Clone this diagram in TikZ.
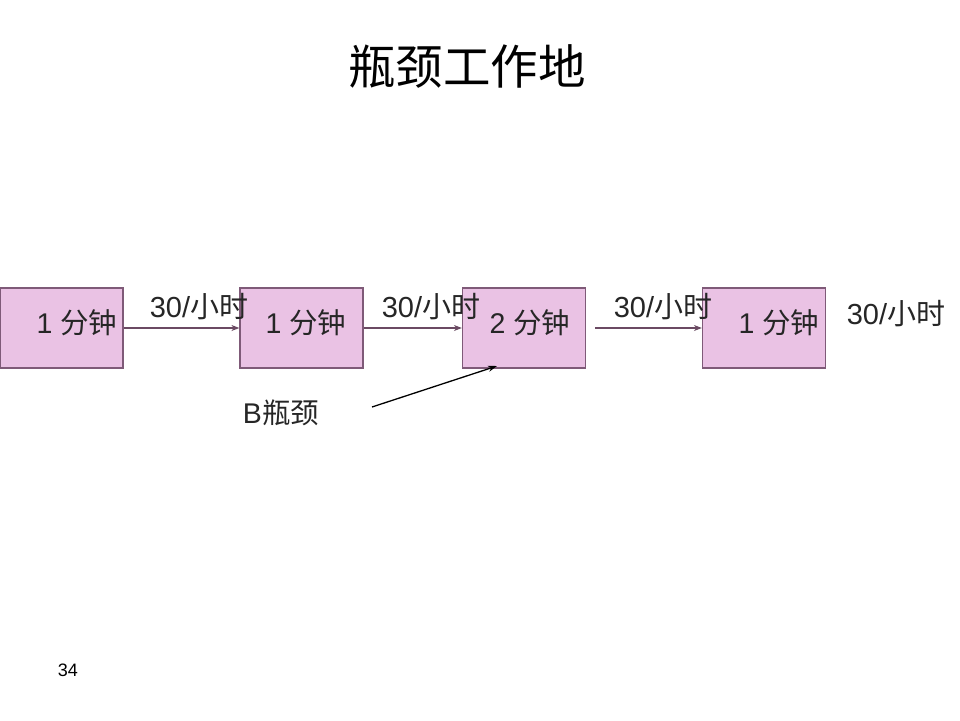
\documentclass[tikz,border=0pt]{standalone}
\usepackage{fontspec}
\setmainfont{Liberation Sans}
\newfontfamily\cjk{Noto Sans CJK SC}
\usetikzlibrary{arrows.meta}
\definecolor{boxfill}{HTML}{EAC2E4}
\definecolor{boxline}{HTML}{7F5A78}
\definecolor{flowline}{HTML}{6B4A63}
\tikzset{
  box/.style={draw=boxline, line width=1.2pt, fill=boxfill, minimum width=123pt, minimum height=80pt, inner sep=0pt},
  boxtext/.style={font=\fontsize{28.5pt}{31pt}\selectfont, inner sep=0pt, text=black!85},
  ratetext/.style={font=\fontsize{29pt}{32pt}\selectfont, inner sep=0pt, text=black!85},
  flow/.style={draw=flowline, line width=1.3pt, -{Stealth[length=8pt,width=6pt]}},
  pointer/.style={draw=black, line width=1.3pt, -{Stealth[length=9pt,width=6pt]}}
}
\begin{document}
\begin{tikzpicture}[x=1pt,y=-1pt]
\useasboundingbox (0,0) rectangle (960,720);
\fill[white] (0,0) rectangle (960,720);
\node[inner sep=0pt, font=\cjk\fontsize{47.5pt}{50pt}\selectfont] (title) at (467,66) {瓶颈工作地};
\node[box] (b1) at (61.5,328) {};
\node[box] (b2) at (301.5,328) {};
\node[box] (b3) at (524,328) {};
\node[box] (b4) at (764,328) {};
\node[boxtext] (t1) at (77,323) {1 {\cjk 分钟}};
\node[boxtext] (t2) at (306,323) {1 {\cjk 分钟}};
\node[boxtext] (t3) at (530,323) {2 {\cjk 分钟}};
\node[boxtext] (t4) at (779,323) {1 {\cjk 分钟}};
\draw[flow] (b1.east) -- (b2.west);
\draw[flow] (b2.east) -- (b3.west);
\draw[flow] ([xshift=9pt]b3.east) -- (b4.west);
\node[ratetext] (r1) at (199,307) {30/{\cjk 小时}};
\node[ratetext] (r2) at (431,307) {30/{\cjk 小时}};
\node[ratetext] (r3) at (663,307) {30/{\cjk 小时}};
\node[ratetext] (r4) at (896,314) {30/{\cjk 小时}};
\node[boxtext] (bn) at (281,413) {B{\cjk 瓶颈}};
\coordinate (ps) at (372,407);
\coordinate (pt) at (497,366);
\draw[pointer] (ps) -- (pt);
\node[inner sep=0pt, font=\fontsize{18pt}{20pt}\selectfont] (pg) at (68,670) {34};
\end{tikzpicture}
\end{document}
